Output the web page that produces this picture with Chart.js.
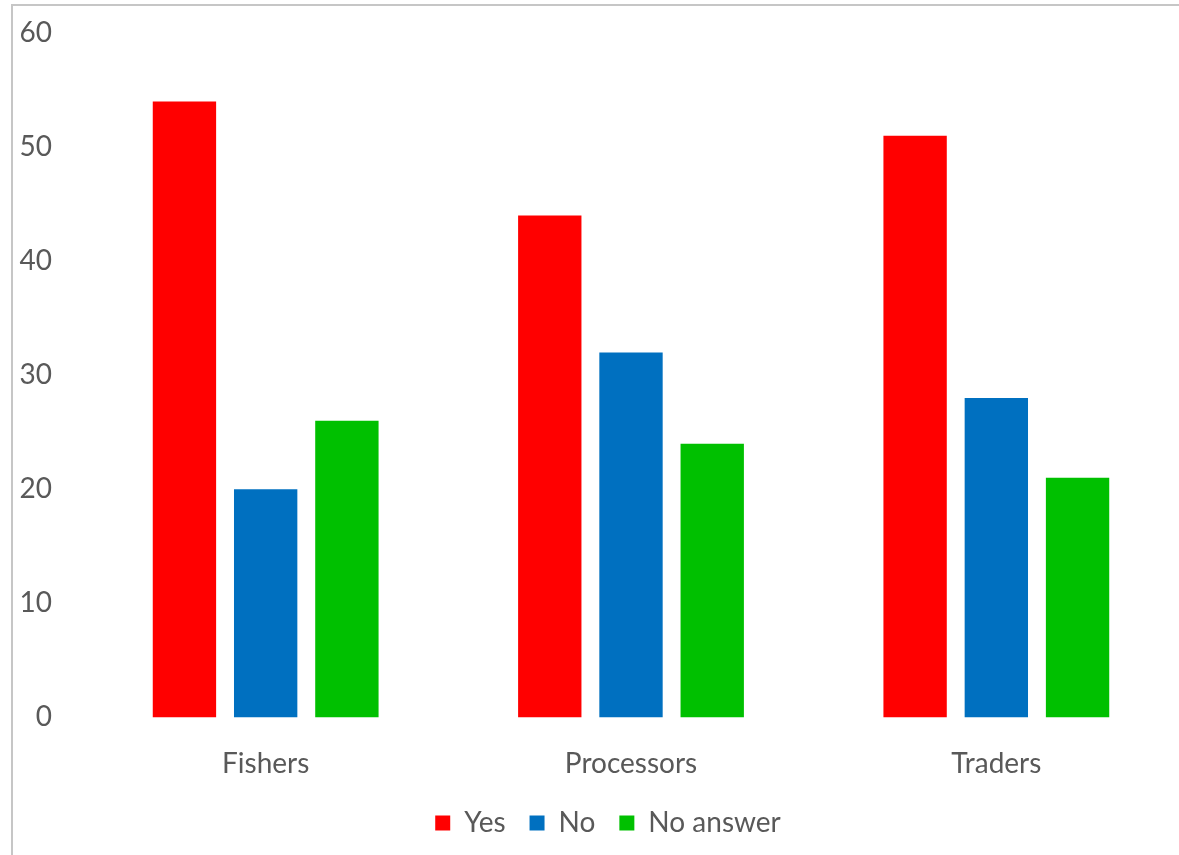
<!DOCTYPE html>
<html>
<head>
<meta charset="utf-8">
<script src="https://cdn.jsdelivr.net/npm/chart.js@4/dist/chart.umd.min.js"></script>
<style>
    html, body { margin: 0; padding: 0; background: #ffffff; }
    #frame {
        position: absolute;
        left: 11px;
        top: 4px;
        width: 1166px;
        height: 849px;
        border-top: 2px solid #c6c6c6;
        border-left: 2px solid #c6c6c6;
    }
    #chart { display: block; }
</style>
</head>
<body>
<div id="frame">
    <canvas id="chart" width="1166" height="849"></canvas>
</div>
<script>
// Survey responses per group
const groups = ["Fishers", "Processors", "Traders"];
const yesValues = [54, 44, 51];
const noValues = [20, 32, 28];
const noAnswerValues = [26, 24, 21];
const yTicks = [0, 10, 20, 30, 40, 50, 60];

const textColor = "#595959";
const fontFamily = "Lato, 'Open Sans', sans-serif";

Chart.defaults.font.family = fontFamily;
Chart.defaults.color = textColor;

const series = [
    { label: "Yes", data: yesValues, color: "#ff0000" },
    { label: "No", data: noValues, color: "#0070c0" },
    { label: "No answer", data: noAnswerValues, color: "#00c000" }
];

// nudge the legend a little right of the canvas centre
const legendShift = {
    id: "legendShift",
    afterLayout(chart) {
        chart.legend.left += 12;
        chart.legend.right += 12;
    }
};

new Chart(document.getElementById("chart"), {
    type: "bar",
    data: {
        labels: groups,
        datasets: series.map(s => ({
            label: s.label,
            data: s.data,
            backgroundColor: s.color,
            borderWidth: 0,
            categoryPercentage: 0.667,
            barPercentage: 0.78
        }))
    },
    options: {
        responsive: false,
        animation: false,
        layout: { padding: { top: 27, right: 0, left: 0, bottom: 8 } },
        plugins: {
            legend: {
                position: "bottom",
                labels: {
                    boxWidth: 15,
                    boxHeight: 15,
                    padding: 24,
                    color: textColor,
                    font: { size: 28 }
                }
            },
            tooltip: { enabled: false }
        },
        scales: {
            x: {
                afterFit: scale => { scale.height -= 26; },
                grid: { display: false, drawTicks: false },
                border: { display: false },
                ticks: { padding: 30, color: textColor, font: { size: 28 } }
            },
            y: {
                min: 0,
                max: 60,
                afterBuildTicks: scale => {
                    scale.ticks = yTicks.map(v => ({ value: v }));
                },
                afterFit: scale => {
                    scale.width = 70;
                    scale.paddingTop = 0;
                    scale.paddingBottom = 0;
                },
                grid: { display: false, drawTicks: false },
                border: { display: false },
                ticks: { padding: 31, color: textColor, font: { size: 28 } }
            }
        }
    },
    plugins: [legendShift]
});
</script>
</body>
</html>
